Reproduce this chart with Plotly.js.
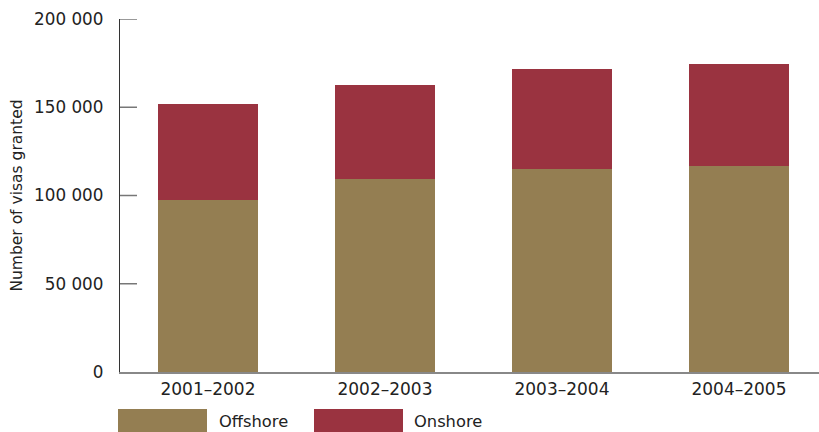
<!DOCTYPE html>
<html>
<head>
<meta charset="utf-8">
<script src="https://cdn.plot.ly/plotly-3.0.1.min.js"></script>
<style>html,body{margin:0;padding:0;background:#fff;}#chart{width:819px;height:432px;}</style>
</head>
<body>
<div id="chart"></div>
<script>
// Data
var years = ["2001–2002", "2002–2003", "2003–2004", "2004–2005"];
var offshore = [97600, 109500, 115200, 116900];
var onshore = [54200, 53300, 56600, 57800];
var seriesNames = ["Offshore", "Onshore"];
var yTickVals = [0, 50000, 100000, 150000, 200000];
var yTickText = ["0", "50 000", "100 000", "150 000", "200 000"];

var colOff = "#947e52";
var colOn = "#9a3340";
var W = 819, H = 432;
var mL = 120, mR = 0, mT = 19, mB = 60;
var pw = W - mL - mR, ph = H - mT - mB;
function px(x) { return (x - mL) / pw; }
function py(y) { return (H - mB - y) / ph; }

var font = "DejaVu Sans, Verdana, sans-serif";

var traces = [
  {type: "bar", x: years, y: offshore, name: seriesNames[0], marker: {color: colOff}, hoverinfo: "none"},
  {type: "bar", x: years, y: onshore, name: seriesNames[1], marker: {color: colOn}, hoverinfo: "none"}
];

var shapes = [
  {type: "rect", xref: "paper", yref: "paper", x0: px(118), x1: px(207), y0: py(409), y1: py(433), fillcolor: colOff, line: {width: 0}},
  {type: "rect", xref: "paper", yref: "paper", x0: px(314), x1: px(403), y0: py(409), y1: py(433), fillcolor: colOn, line: {width: 0}}
];
yTickVals.forEach(function (v) {
  if (v === 0) return;
  shapes.push({type: "line", xref: "paper", yref: "y", x0: 0, x1: px(137), y0: v, y1: v, line: {color: "#777", width: 1.5}, layer: "below"});
});

var layout = {
  width: W, height: H,
  margin: {l: mL, r: mR, t: mT, b: mB, pad: 0},
  paper_bgcolor: "#fff", plot_bgcolor: "#fff",
  barmode: "stack",
  bargap: 0.435,
  showlegend: false,
  font: {family: font, color: "#222", size: 16},
  xaxis: {
    type: "category",
    range: [-0.497, 3.452],
    showline: true, linecolor: "#888", linewidth: 1.5,
    ticks: "", showgrid: false, zeroline: false,
    tickfont: {family: font, size: 17, color: "#222"},
    ticklabelstandoff: 1,
    fixedrange: true
  },
  yaxis: {
    range: [0, 200000],
    tickvals: yTickVals, ticktext: yTickText,
    showline: true, linecolor: "#333", linewidth: 1.2,
    ticks: "", showgrid: false, zeroline: false,
    tickfont: {family: font, size: 16.8, color: "#222"},
    ticklabelstandoff: 12,
    title: {text: "Number of visas granted", font: {family: font, size: 15.5, color: "#222"}, standoff: 7},
    fixedrange: true
  },
  shapes: shapes,
  annotations: [
    {xref: "paper", yref: "paper", x: px(217), y: py(421.5), xanchor: "left", yanchor: "middle", text: seriesNames[0], showarrow: false, font: {family: font, size: 16.3, color: "#222"}},
    {xref: "paper", yref: "paper", x: px(412), y: py(421.5), xanchor: "left", yanchor: "middle", text: seriesNames[1], showarrow: false, font: {family: font, size: 16.3, color: "#222"}}
  ]
};

Plotly.newPlot("chart", traces, layout, {displayModeBar: false, staticPlot: true});
</script>
</body>
</html>
